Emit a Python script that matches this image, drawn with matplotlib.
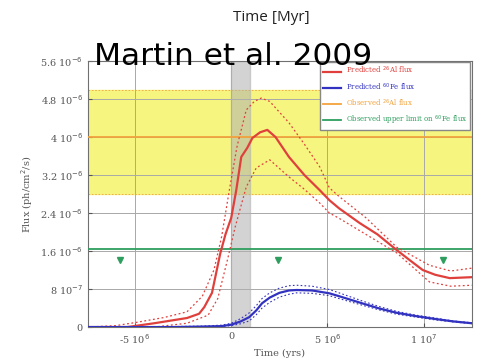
import matplotlib
matplotlib.use("Agg")
import matplotlib.pyplot as plt

# Predicted 26Al flux (central + uncertainty)
al_t = [-7.45e6, -5.4e6, -4.0e6, -2.3e6, -1.67e6, -1.4e6, -1.0e6, -0.57e6, -0.3e6, 0.0, 0.26e6, 0.52e6,
        0.83e6, 1.1e6, 1.5e6, 1.875e6, 2.3e6, 3.0e6, 3.8e6, 4.6e6, 5.1e6, 5.6e6, 6.67e6, 7.6e6, 8.6e6,
        9.3e6, 9.95e6, 10.6e6, 11.35e6, 12.5e6]
al_mid = [0.0, 0.0, 0.08e-6, 0.19e-6, 0.28e-6, 0.42e-6, 0.72e-6, 1.55e-6, 1.95e-6, 2.3e-6, 2.88e-6, 3.58e-6,
          3.77e-6, 3.98e-6, 4.1e-6, 4.15e-6, 4.0e-6, 3.58e-6, 3.2e-6, 2.88e-6, 2.67e-6, 2.5e-6, 2.19e-6,
          1.95e-6, 1.62e-6, 1.4e-6, 1.2e-6, 1.1e-6, 1.03e-6, 1.05e-6]
alu_t = [-7.45e6, -6.0e6, -4.9e6, -3.5e6, -2.3e6, -1.5e6, -0.9e6, -0.5e6, -0.1e6, 0.3e6, 0.78e6, 1.2e6,
         1.56e6, 2.0e6, 3.0e6, 3.8e6, 4.6e6, 5.1e6, 5.6e6, 7.0e6, 8.6e6, 10.3e6, 11.4e6, 12.5e6]
al_up = [0.0, 0.03e-6, 0.1e-6, 0.2e-6, 0.32e-6, 0.65e-6, 1.2e-6, 1.9e-6, 2.88e-6, 3.8e-6, 4.57e-6, 4.75e-6,
         4.82e-6, 4.75e-6, 4.3e-6, 3.85e-6, 3.37e-6, 2.93e-6, 2.75e-6, 2.3e-6, 1.68e-6, 1.3e-6, 1.18e-6, 1.24e-6]
all_t = [-7.45e6, -4.0e6, -2.3e6, -1.2e6, -0.7e6, -0.2e6, 0.2e6, 0.78e6, 1.3e6, 2.0e6, 3.0e6, 3.8e6,
         4.6e6, 5.1e6, 5.6e6, 7.0e6, 8.6e6, 10.3e6, 11.4e6, 12.5e6]
al_lo = [0.0, 0.0, 0.08e-6, 0.25e-6, 0.6e-6, 1.41e-6, 2.1e-6, 2.95e-6, 3.35e-6, 3.52e-6, 3.16e-6, 2.9e-6,
         2.61e-6, 2.4e-6, 2.29e-6, 1.95e-6, 1.56e-6, 0.95e-6, 0.86e-6, 0.88e-6]

# Predicted 60Fe flux
fe_t = [-7.45e6, -3.0e6, -1.5e6, -0.5e6, 0.0, 0.5e6, 0.94e6, 1.3e6, 1.6e6, 2.0e6, 2.5e6, 3.0e6, 3.4e6,
        4.2e6, 5.1e6, 5.6e6, 6.8e6, 7.7e6, 8.6e6, 9.6e6, 10.6e6, 11.5e6, 12.5e6]
fe_mid = [0.0, 0.0, 0.01e-6, 0.02e-6, 0.05e-6, 0.12e-6, 0.21e-6, 0.35e-6, 0.5e-6, 0.62e-6, 0.72e-6, 0.77e-6,
          0.78e-6, 0.77e-6, 0.71e-6, 0.65e-6, 0.5e-6, 0.39e-6, 0.3e-6, 0.23e-6, 0.17e-6, 0.12e-6, 0.08e-6]
fe_up = [0.0, 0.01e-6, 0.02e-6, 0.04e-6, 0.08e-6, 0.18e-6, 0.3e-6, 0.45e-6, 0.6e-6, 0.72e-6, 0.82e-6, 0.87e-6,
         0.88e-6, 0.86e-6, 0.79e-6, 0.72e-6, 0.55e-6, 0.43e-6, 0.33e-6, 0.25e-6, 0.19e-6, 0.13e-6, 0.09e-6]
fe_lo = [0.0, 0.0, 0.0, 0.01e-6, 0.03e-6, 0.07e-6, 0.13e-6, 0.26e-6, 0.4e-6, 0.52e-6, 0.63e-6, 0.69e-6,
         0.72e-6, 0.71e-6, 0.66e-6, 0.6e-6, 0.46e-6, 0.36e-6, 0.27e-6, 0.21e-6, 0.15e-6, 0.11e-6, 0.07e-6]

# observations
al_obs = 4.0e-6
al_obs_lo, al_obs_hi = 2.8e-6, 5.0e-6
fe_limit = 1.65e-6
arrow_t = [-5.78e6, 2.45e6, 1.1e7]
arrow_y = 1.42e-6

yticks = [0, 0.8e-6, 1.6e-6, 2.4e-6, 3.2e-6, 4.0e-6, 4.8e-6, 5.6e-6]
ylabels = ["0", "8 10$^{-7}$", "1.6 10$^{-6}$", "2.4 10$^{-6}$", "3.2 10$^{-6}$", "4 10$^{-6}$",
           "4.8 10$^{-6}$", "5.6 10$^{-6}$"]
xticks = [-5e6, 0, 5e6, 1e7]
xlabels = ["-5 10$^{6}$", "0", "5 10$^{6}$", "1 10$^{7}$"]

red = "#e0403c"
blue = "#3232c0"
orange = "#f2a23c"
green = "#2e9e5e"
tick_col = "#555555"

fig = plt.figure(figsize=(4.8, 3.59), dpi=100)
ax = fig.add_axes([0.183, 0.089, 0.800, 0.741])

ax.axhspan(al_obs_lo, al_obs_hi, color="#f5f580", zorder=0)
ax.axhline(al_obs_lo, color=orange, ls=(0, (2, 2)), lw=0.6, zorder=1)
ax.axhline(al_obs_hi, color=orange, ls=(0, (2, 2)), lw=0.6, zorder=1)
ax.axvspan(0, 1e6, color="#b0b0b0", alpha=0.55, zorder=1)
ax.grid(True, color="#a8a8a8", lw=0.7)
ax.set_axisbelow(True)

ax.plot(al_t, al_mid, color=red, lw=1.6, zorder=4, label="Predicted $^{26}$Al flux")
ax.plot(alu_t, al_up, color=red, lw=0.9, ls=(0, (1.5, 2)), zorder=4)
ax.plot(all_t, al_lo, color=red, lw=0.9, ls=(0, (1.5, 2)), zorder=4)
ax.plot(fe_t, fe_mid, color=blue, lw=1.6, zorder=4, label="Predicted $^{60}$Fe flux")
ax.plot(fe_t, fe_up, color=blue, lw=0.8, ls=(0, (1.5, 2)), zorder=4)
ax.plot(fe_t, fe_lo, color=blue, lw=0.8, ls=(0, (1.5, 2)), zorder=4)
ax.axhline(al_obs, color=orange, lw=1.3, zorder=3, label="Observed $^{26}$Al flux")
ax.axhline(fe_limit, color=green, lw=1.3, zorder=3, label="Observed upper limit on $^{60}$Fe flux")
ax.plot(arrow_t, [arrow_y] * len(arrow_t), ls="none", marker="v", ms=4, color=green, zorder=5)

ax.set_xlim(-7.45e6, 1.25e7)
ax.set_ylim(0, 5.6e-6)
ax.set_xticks(xticks)
ax.set_xticklabels(xlabels)
ax.set_yticks(yticks)
ax.set_yticklabels(ylabels)
ax.tick_params(labelsize=7, colors=tick_col, length=3, direction="in")
for lab in ax.get_xticklabels() + ax.get_yticklabels():
    lab.set_family("DejaVu Serif")
for sp in ax.spines.values():
    sp.set_color("#707070")
ax.set_xlabel("Time (yrs)", fontsize=7, family="DejaVu Serif", color=tick_col, labelpad=2)
ax.set_ylabel("Flux (ph/cm$^2$/s)", fontsize=7, family="DejaVu Serif", color=tick_col, labelpad=4)

leg = ax.legend(loc="upper right", prop={"family": "DejaVu Serif", "size": 5},
                frameon=True, fancybox=False, edgecolor="#888888", framealpha=1,
                handlelength=2.6, borderaxespad=0.2, labelspacing=0.7)
for txt, line in zip(leg.get_texts(), leg.get_lines()):
    txt.set_color(line.get_color())

fig.text(0.565, 0.95, "Time [Myr]", fontsize=11, family="Open Sans", color="#222222",
         ha="center", va="center")
# title text sits over the top of the axes frame and legend, as in the original
fig.text(0.195, 0.842, "Martin et al. 2009", fontsize=22.5, family="DejaVu Sans", color="black",
         ha="left", va="center", zorder=10)

fig.savefig("out.png", dpi=100)
